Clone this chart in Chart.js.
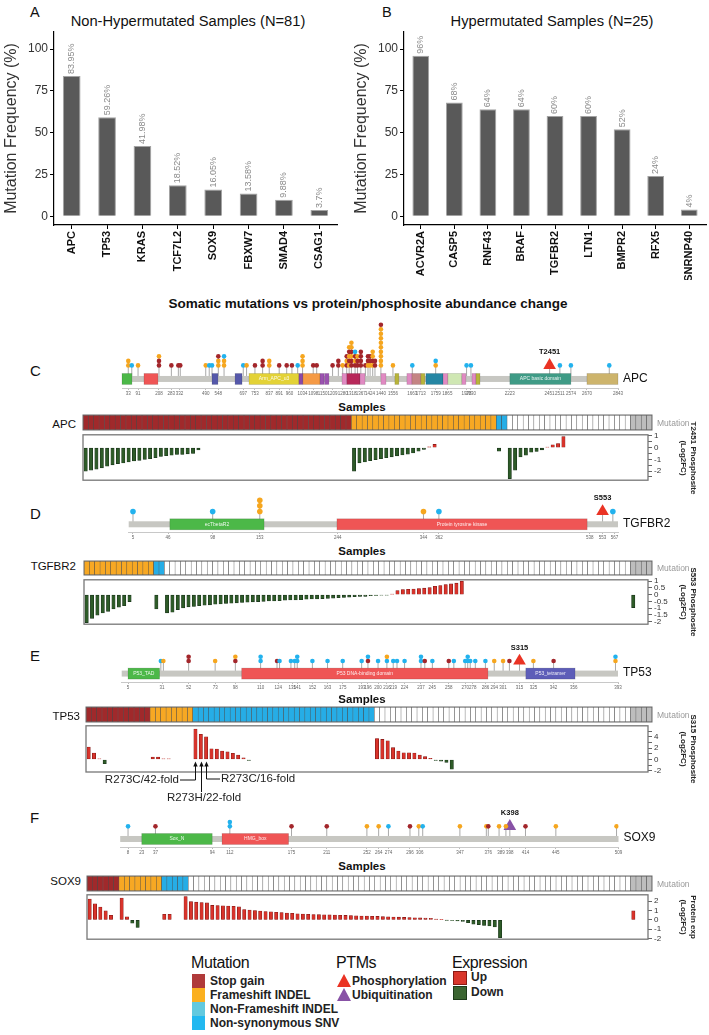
<!DOCTYPE html>
<html>
<head>
<meta charset="utf-8">
<script src="https://cdn.jsdelivr.net/npm/chart.js@4.4.0/dist/chart.umd.min.js"></script>
<style>
  body { margin: 0; background: #fff; width: 709px; height: 1035px; position: relative; overflow: hidden;
         font-family: 'Liberation Sans', Arial, Helvetica, sans-serif; color: #111; }
  canvas { position: absolute; }
  .t { position: absolute; white-space: nowrap; line-height: 1; }
  .sw { position: absolute; }
</style>
</head>
<body>
<script>
const FONT = "'Liberation Sans', Arial, Helvetica, sans-serif";

// ---------- A / B : mutation frequency ----------
const nonHyperGenes = ['APC', 'TP53', 'KRAS', 'TCF7L2', 'SOX9', 'FBXW7', 'SMAD4', 'CSAG1'];
const nonHyperFreq = [83.95, 59.26, 41.98, 18.52, 16.05, 13.58, 9.88, 3.7];
const nonHyperText = ['83.95%', '59.26%', '41.98%', '18.52%', '16.05%', '13.58%', '9.88%', '3.7%'];
const hyperGenes = ['ACVR2A', 'CASP5', 'RNF43', 'BRAF', 'TGFBR2', 'LTN1', 'BMPR2', 'RFX5', 'SNRNP40'];
const hyperFreq = [96, 68, 64, 64, 60, 60, 52, 24, 4];
const hyperText = ['96%', '68%', '64%', '64%', '60%', '60%', '52%', '24%', '4%'];
const freqTicks = [0, 25, 50, 75, 100];

// mutation codes: S stop gain, F frameshift indel, I non-frameshift indel, N non-synonymous SNV, W none, X no data

// ---------- APC ----------
const apcLength = 2843;
const apcDomains = [[0, 57, ''], [126, 206, ''], [516, 550, ''], [648, 688, ''], [728, 1014, 'Arm_APC_u3'],
  [1014, 1037, ''], [1037, 1135, ''], [1135, 1158, ''], [1161, 1186, ''], [1261, 1289, ''], [1289, 1364, ''],
  [1364, 1393, ''], [1484, 1513, ''], [1564, 1587, ''], [1633, 1662, ''], [1662, 1713, ''], [1713, 1736, ''],
  [1742, 1840, ''], [1840, 1868, ''], [1868, 1948, ''], [1948, 1971, ''], [2006, 2029, ''], [2029, 2052, ''],
  [2223, 2573, 'APC basic domain'], [2665, 2843, '']];
const apcDomainColors = ['#4cb848', '#ef5555', '#5558aa', '#5558aa', '#e3d236', '#8b47a8', '#f59a45', '#9b52b0',
  '#9b52b0', '#e08ac2', '#b7285a', '#e08ac2', '#e08ac2', '#b8b43a', '#e08ac2', '#c48484', '#b8b43a', '#2586a3',
  '#e08ac2', '#cfe7b3', '#e08ac2', '#e08ac2', '#b8b43a', '#3f9b86', '#cdb46c'];
const apcMuts = [[36, 'FF'], [56, 'N'], [92, 'F'], [212, 'SSF'], [283, 'S'], [323, 'S'], [334, 'S'], [480, 'F'],
  [500, 'N'], [516, 'N'], [552, 'FFS'], [585, 'FFN'], [695, 'N'], [714, 'F'], [762, 'S'], [806, 'SS'], [844, 'FF'],
  [901, 'S'], [944, 'S'], [974, 'S'], [1007, 'N'], [1035, 'FFF'], [1096, 'S'], [1116, 'S'], [1207, 'S'], [1240, 'SS'],
  [1265, 'F'], [1288, 'SFS'], [1302, 'FSFSF'], [1315, 'SSFSFF'], [1336, 'SFSN'], [1350, 'SSF'], [1369, 'SSSS'],
  [1395, 'S'], [1410, 'FSS'], [1422, 'FSS'], [1437, 'FSFF'], [1450, 'SS'], [1484, 'FFFFFFFFFS'], [1553, 'F'],
  [1664, 'N'], [1798, 'FN'], [1975, 'N'], [2000, 'N'], [2510, 'N'], [2573, 'N'], [2793, 'N']];
const apcPtms = [[2451, 'T2451', 'P']];
const apcTicks = [36, 92, 212, 283, 330, 480, 552, 695, 762, 844, 901, 960, 1035, 1096, 1150, 1207, 1265, 1315,
  1369, 1422, 1484, 1553, 1664, 1713, 1798, 1865, 1975, 2000, 2223, 2451, 2510, 2573, 2665, 2843];
const apcTickLabels = ['33', '91', '208', '283', '332', '490', '548', '697', '753', '837', '891', '960', '1034',
  '1098', '1150', '1209', '1280', '1318', '1367', '1424', '1440', '1556', '1663', '1713', '1759', '1865', '1978',
  '2030', '2223', '2451', '2511', '2574', '2670', '2843'];
const apcMutRuns = [['S', 50], ['F', 27], ['N', 2], ['W', 23], ['X', 4]];
const apcExpr = [
  [0, [-2.0, -1.92, -1.83, -1.72, -1.58, -1.47, -1.36, -1.31, -1.22, -1.14, -1.08, -1.0, -0.94, -0.86, -0.75,
       -0.69, -0.64, -0.58, -0.58, -0.53, -0.5, -0.2]],
  [50, [-2.0, -1.3, -1.22, -1.12, -1.03, -0.94, -0.86, -0.78, -0.7, -0.62, -0.55, -0.45, -0.3, -0.15, 0.08, 0.28]],
  [77, [-0.3]],
  [79, [-2.64, -1.92, -0.8, -0.65, -0.39, -0.33, -0.19, 0.05, 0.25, 0.36, 0.94]]];
const apcExprTicks = [1, 0.5, 0, -0.5, -1, -1.5, -2, -2.5];
const apcExprTickLabels = ['1', '', '0', '', '-1', '', '-2', ''];

// ---------- TGFBR2 ----------
const tgfbr2Length = 571;
const tgfbr2Domains = [[48, 158, 'ecTbetaR2'], [243, 535, 'Protein tyrosine kinase']];
const tgfbr2DomainColors = ['#4cb848', '#ef5555'];
const tgfbr2Muts = [[5, 'N'], [98, 'N'], [153, 'FFF'], [344, 'F'], [362, 'N'], [565, 'N']];
const tgfbr2Ptms = [[553, 'S553', 'P']];
const tgfbr2Ticks = [5, 46, 98, 153, 244, 344, 362, 538, 553, 567];
const tgfbr2TickLabels = ['5', '46', '98', '153', '244', '344', '362', '538', '553', '567'];
const tgfbr2MutRuns = [['F', 13], ['N', 2], ['W', 87], ['X', 4]];
const tgfbr2Expr = [
  [0, [-2.06, -1.75, -1.51, -1.35, -1.23, -1.06, -0.92, -0.82, -0.51]],
  [13, [-1.06]],
  [15, [-1.34, -1.29, -1.1, -0.98, -0.9, -0.87, -0.82, -0.77, -0.75, -0.7, -0.68, -0.65, -0.63, -0.6, -0.58,
        -0.56, -0.53, -0.51, -0.49, -0.46, -0.46, -0.44, -0.41, -0.39, -0.39, -0.37, -0.34, -0.32, -0.32, -0.29,
        -0.27, -0.25, -0.22, -0.2, -0.18, -0.15, -0.13, -0.13, -0.08, -0.06, -0.04, -0.03,
        0.05, 0.3, 0.38, 0.4, 0.42, 0.45, 0.48, 0.52, 0.62, 0.68, 0.75, 0.8, 0.85, 1.0]],
  [102, [-0.95]]];
const tgfbr2ExprTicks = [1, 0.5, 0, -0.5, -1, -1.5, -2];
const tgfbr2ExprTickLabels = ['1', '0.5', '0', '-0.5', '-1', '-1.5', '-2'];

// ---------- TP53 ----------
const tp53Length = 393;
const tp53Domains = [[5, 30, 'P53_TAD'], [95, 290, 'P53 DNA-binding domain'], [320, 359, 'P53_tetramer']];
const tp53DomainColors = ['#4cb848', '#ef5555', '#5d5db8'];
const tp53Muts = [[31, 'N'], [33, 'F'], [53, 'SS'], [74, 'F'], [90, 'SF'], [110, 'NN'], [123, 'S'], [125, 'N'],
  [134, 'N'], [137, 'N'], [139, 'NN'], [151, 'N'], [163, 'N'], [175, 'N'], [190, 'N'], [195, 'SN'], [203, 'N'],
  [210, 'NF'], [215, 'N'], [218, 'N'], [224, 'N'], [237, 'NN'], [240, 'S'], [246, 'N'], [259, 'S'], [263, 'N'],
  [272, 'N'], [274, 'NN'], [276, 'N'], [280, 'N'], [288, 'N'], [295, 'F'], [302, 'F'], [307, 'S'], [326, 'F'],
  [342, 'S'], [391, 'FN']];
const tp53Ptms = [[315, 'S315', 'P']];
const tp53Ticks = [5, 32, 53, 74, 90, 110, 124, 135, 139, 151, 163, 175, 190, 195, 203, 210, 215, 224, 237, 246,
  259, 272, 278, 288, 295, 302, 315, 326, 342, 358, 393];
const tp53TickLabels = ['5', '31', '52', '73', '98', '110', '124', '135', '141', '152', '163', '175', '193', '196',
  '200', '216', '219', '224', '237', '245', '258', '270', '278', '286', '294', '301', '315', '325', '342', '356', '393'];
const tp53MutRuns = [['S', 12], ['F', 8], ['N', 34], ['W', 48], ['X', 4]];
const tp53Expr = [
  [0, [2.2, 1.15, 0.12, -0.75]],
  [12, [0.45, 0.45, 0.12, 0.12]],
  [20, [5.39, 4.46, 4.0, 1.9, 1.85, 1.5, 1.35, 1.1, 0.8, 0.3, -0.15]],
  [54, [3.7, 3.55, 3.3, 2.1, 1.5, 1.2, 1.2, 1.15, 0.8, 0.5, 0.2, -0.15, -0.3, -0.5, -1.7]]];
const tp53ExprTicks = [5, 4, 3, 2, 1, 0, -1, -2];
const tp53ExprTickLabels = ['', '4', '', '2', '', '0', '', '-2'];
const tp53Notes = [[20, 'R273C/42-fold'], [21, 'R273H/22-fold'], [22, 'R273C/16-fold']];

// ---------- SOX9 ----------
const sox9Length = 509;
const sox9Domains = [[22, 94, 'Sox_N'], [104, 172, 'HMG_box']];
const sox9DomainColors = ['#4cb848', '#ef5555'];
const sox9Muts = [[8, 'N'], [36, 'S'], [112, 'NN'], [175, 'S'], [211, 'S'], [252, 'F'], [264, 'F'], [274, 'N'],
  [296, 'S'], [305, 'F'], [309, 'N'], [347, 'F'], [374, 'F'], [376, 'S'], [387, 'F'], [394, 'F'], [414, 'S'],
  [445, 'F'], [507, 'F']];
const sox9Ptms = [[398, 'K398', 'U']];
const sox9Ticks = [8, 22, 36, 94, 112, 175, 211, 252, 264, 274, 296, 306, 347, 376, 389, 398, 414, 445, 509];
const sox9TickLabels = ['8', '23', '37', '94', '112', '175', '211', '252', '264', '274', '296', '306', '347', '376',
  '389', '398', '414', '445', '509'];
const sox9MutRuns = [['S', 6], ['F', 8], ['N', 5], ['W', 83], ['X', 4]];
const sox9Expr = [
  [0, [2.23, 1.72, 1.37, 0.96, 0.5]],
  [6, [2.34, 0.34, -0.35, -0.8]],
  [14, [0.6, 0.6]],
  [18, [2.5, 1.95, 1.9, 1.85, 1.82, 1.55, 1.53, 1.5, 1.48, 1.45, 1.4, 1.1, 1.05, 1.0, 0.95, 0.9, 0.86, 0.82, 0.78,
        0.74, 0.7, 0.66, 0.62, 0.6, 0.58, 0.56, 0.55, 0.53, 0.52, 0.5, 0.48, 0.46, 0.44, 0.42, 0.41, 0.39, 0.37,
        0.35, 0.33, 0.31, 0.29, 0.27, 0.25, 0.23, 0.21, 0.19, 0.17, 0.1, 0.05, -0.03, -0.06, -0.1, -0.15, -0.3,
        -0.45, -0.5, -0.6, -0.65, -0.75, -1.9]],
  [102, [0.96]]];
const sox9ExprTicks = [2, 1, 0, -1, -2];
const sox9ExprTickLabels = ['2', '1', '0', '-1', '-2'];

// ---------- colours ----------
const mutColors = { S: '#a0292b', F: '#f7a823', I: '#62c9df', N: '#26ade6', W: '#ffffff', X: '#bdbdbd' };
const headColors = { S: '#a3262b', F: '#f6a61e', I: '#62c9df', N: '#22b2ee' };
const ptmColors = { P: '#ea3324', U: '#8852a6' };
const upFill = '#d9332b', upLine = '#7d1512', downFill = '#2e5b28', downLine = '#18311a';

Chart.defaults.font.family = FONT;
Chart.defaults.animation = false;
Chart.defaults.responsive = false;
Chart.defaults.plugins.legend.display = false;
Chart.defaults.plugins.tooltip.enabled = false;

function addCanvas(left, top, w, h) {
  const c = document.createElement('canvas');
  c.width = Math.round(w); c.height = Math.round(h);
  c.style.left = left + 'px'; c.style.top = top + 'px';
  c.style.width = Math.round(w) + 'px'; c.style.height = Math.round(h) + 'px';
  document.body.appendChild(c);
  return c;
}

function addText(str, x, y, css, anchor) {
  const d = document.createElement('div');
  d.className = 't';
  d.textContent = str;
  d.style.cssText = css || '';
  d.style.left = x + 'px';
  d.style.top = y + 'px';
  const tx = anchor === 'c' ? '-50%' : anchor === 'r' ? '-100%' : '0';
  d.style.transform = 'translate(' + tx + ',-50%)';
  document.body.appendChild(d);
  return d;
}

function addRotated(lines, xc, yc) {
  const d = document.createElement('div');
  d.className = 't';
  d.style.cssText = 'width:110px;height:20px;line-height:10px;text-align:center;font-size:8px;font-weight:bold;color:#222;';
  d.style.left = (xc) + 'px';
  d.style.top = (yc) + 'px';
  d.style.transform = 'translate(-50%,-50%) rotate(90deg)';
  d.innerHTML = lines.map(s => '<div>' + s + '</div>').join('');
  document.body.appendChild(d);
}

// ---------- plugins ----------
const valueLabelPlugin = {
  id: 'valueLabels',
  afterDatasetsDraw(chart, args, opts) {
    const ctx = chart.ctx;
    ctx.save();
    ctx.font = '9px ' + FONT;
    ctx.fillStyle = '#8a8a8a';
    ctx.textAlign = 'left';
    ctx.textBaseline = 'middle';
    chart.getDatasetMeta(0).data.forEach((bar, i) => {
      ctx.save();
      ctx.translate(bar.x, bar.y - 2);
      ctx.rotate(-Math.PI / 2);
      ctx.fillText(opts.texts[i], 0, 0);
      ctx.restore();
    });
    ctx.restore();
  }
};

const proteinPlugin = {
  id: 'protein',
  beforeDatasetsDraw(chart, args, o) {
    const { ctx, chartArea: a, scales: { x, y } } = chart;
    const yb = y.getPixelForValue(o.backbone);
    ctx.save();
    ctx.strokeStyle = '#a9a9a9';
    ctx.lineWidth = 1;
    o.stems.forEach(([pos, top]) => {
      const px = x.getPixelForValue(pos);
      ctx.beginPath();
      ctx.moveTo(px, yb);
      ctx.lineTo(px, y.getPixelForValue(top));
      ctx.stroke();
    });
    ctx.fillStyle = '#c7c7c2';
    ctx.fillRect(a.left, yb - 3, a.right - a.left, 6);
    o.domains.forEach((d, i) => {
      const x0 = x.getPixelForValue(d[0]), x1 = x.getPixelForValue(d[1]);
      ctx.fillStyle = o.colors[i];
      ctx.fillRect(x0, yb - 5.5, x1 - x0, 11);
      ctx.strokeStyle = 'rgba(0,0,0,0.15)';
      ctx.lineWidth = 0.8;
      ctx.strokeRect(x0, yb - 5.5, x1 - x0, 11);
      if (d[2]) {
        ctx.fillStyle = 'rgba(255,255,255,0.9)';
        ctx.font = '5px ' + FONT;
        ctx.textAlign = 'center';
        ctx.textBaseline = 'middle';
        ctx.fillText(d[2], (x0 + x1) / 2, yb);
      }
    });
    ctx.restore();
  },
  afterDatasetsDraw(chart, args, o) {
    const { ctx, scales: { x, y } } = chart;
    ctx.save();
    ctx.font = 'bold 7.5px ' + FONT;
    ctx.fillStyle = '#111';
    ctx.textAlign = 'center';
    ctx.textBaseline = 'middle';
    o.ptms.forEach(p => ctx.fillText(p[1], x.getPixelForValue(p[0]), y.getPixelForValue(1) - 13.5));
    ctx.restore();
  }
};

const framePlugin = {
  id: 'frame',
  afterDraw(chart, args, o) {
    const { ctx, chartArea: a } = chart;
    ctx.save();
    ctx.strokeStyle = o.color || '#777';
    ctx.lineWidth = o.width || 1.2;
    ctx.strokeRect(a.left, a.top, a.right - a.left, a.bottom - a.top);
    ctx.restore();
  }
};

const arrowPlugin = {
  id: 'arrows',
  afterDraw(chart, args, o) {
    if (!o.notes) return;
    const { ctx, chartArea: a, scales: { x, y } } = chart;
    const tip = y.getPixelForValue(0) + 2;
    ctx.save();
    ctx.strokeStyle = '#111';
    ctx.fillStyle = '#111';
    ctx.lineWidth = 1;
    o.notes.forEach((n, i) => {
      const r = o.routes[i];
      const px = Math.round(x.getPixelForValue(n[0])) + 0.5;
      const yEnd = a.bottom + r.drop;
      ctx.beginPath();
      ctx.moveTo(px, tip + 4);
      ctx.lineTo(px, yEnd);
      if (r.to !== null) ctx.lineTo(r.to, yEnd);
      ctx.stroke();
      ctx.beginPath();
      ctx.moveTo(px, tip);
      ctx.lineTo(px - 2.2, tip + 5);
      ctx.lineTo(px + 2.2, tip + 5);
      ctx.closePath();
      ctx.fill();
    });
    ctx.restore();
  }
};

// ---------- builders ----------
function freqChart(left, width, areaRight, genes, values, texts) {
  const c = addCanvas(left, 0, width, 280);
  new Chart(c, {
    type: 'bar',
    data: {
      labels: genes,
      datasets: [{ data: values, backgroundColor: '#595959', borderColor: '#a3a3a3', borderWidth: 1,
                   barPercentage: 0.5, categoryPercentage: 1 }]
    },
    options: {
      layout: { padding: { top: 32, right: width - areaRight, left: 0, bottom: 0 } },
      plugins: { valueLabels: { texts } },
      scales: {
        x: {
          grid: { display: true, drawOnChartArea: false, offset: false, tickLength: 4, color: '#000' },
          border: { color: '#000', width: 1.2 },
          ticks: { autoSkip: false, minRotation: 90, maxRotation: 90, padding: 2, color: '#111',
                   font: { size: 11, weight: 'bold' } },
          afterFit: s => { s.height = 55; }
        },
        y: {
          min: -5.25, max: 110.25,
          afterBuildTicks: s => { s.ticks = freqTicks.map(v => ({ value: v })); },
          grid: { display: true, drawOnChartArea: false, tickLength: 4, color: '#000' },
          border: { color: '#000', width: 1.2 },
          ticks: { padding: 2, color: '#333', font: { size: 12 } },
          title: { display: true, text: 'Mutation Frequency (%)', color: '#333', font: { size: 16 },
                   padding: { top: 2, bottom: 0 } },
          afterFit: s => { s.width = 54; }
        }
      }
    },
    plugins: [valueLabelPlugin]
  });
}

function lollipopChart(g) {
  const b = 1 - 15 / g.spacing;
  const yMin = b - g.axisGap / g.spacing;
  const yMax = b + g.topGap / g.spacing;
  const areaH = (yMax - yMin) * g.spacing;
  const axisH = 10;
  const c = addCanvas(0, g.bbY - g.topGap, 709, areaH + axisH);
  const heads = [], stems = [];
  g.muts.forEach(([pos, types]) => {
    for (let k = 0; k < types.length; k++) heads.push({ x: pos, y: k + 1, t: types[k] });
    stems.push([pos, types.length]);
  });
  g.ptms.forEach(p => stems.push([p[0], 1]));
  new Chart(c, {
    type: 'scatter',
    data: {
      datasets: [
        { data: heads, pointRadius: g.radius, pointBorderWidth: 0,
          pointBackgroundColor: heads.map(h => headColors[h.t]) },
        { data: g.ptms.map(p => ({ x: p[0], y: 1 })), pointStyle: 'triangle', pointRadius: 7.3, pointBorderWidth: 0,
          pointBackgroundColor: g.ptms.map(p => ptmColors[p[2]]) }
      ]
    },
    options: {
      layout: { padding: { left: g.left, right: 709 - g.right, top: 0, bottom: 0 } },
      plugins: { protein: { backbone: b, stems, domains: g.domains, colors: g.colors, ptms: g.ptms } },
      scales: {
        x: {
          type: 'linear', min: 0, max: g.length, offset: false,
          afterBuildTicks: s => { s.ticks = g.ticks.map(v => ({ value: v })); },
          ticks: { autoSkip: false, minRotation: 0, maxRotation: 0, padding: 1, color: '#666',
                   font: { size: 4.5 }, callback: (v, i) => g.tickLabels[i] },
          grid: { display: true, drawOnChartArea: false, tickLength: 2, color: '#bbb' },
          border: { color: '#c8c8c8', width: 1 },
          afterFit: s => { s.height = axisH; }
        },
        y: { display: false, min: yMin, max: yMax }
      }
    },
    plugins: [proteinPlugin]
  });
}

function stripChart(runs, left, right, top, bottom) {
  const cells = [];
  runs.forEach(([t, n]) => { for (let i = 0; i < n; i++) cells.push(t); });
  const c = addCanvas(left - 2, top - 2, right - left + 4, bottom - top + 4);
  new Chart(c, {
    type: 'bar',
    data: {
      labels: cells.map((_, i) => 'S' + (i + 1)),
      datasets: [{ data: cells.map(() => 1), backgroundColor: cells.map(t => mutColors[t]),
                   borderColor: '#4a4a4a', borderWidth: 0.5, borderSkipped: false,
                   barPercentage: 1, categoryPercentage: 1 }]
    },
    options: {
      layout: { padding: 2 },
      plugins: { frame: { color: '#6a6a6a', width: 1 } },
      scales: { x: { display: false }, y: { display: false, min: 0, max: 1 } }
    },
    plugins: [framePlugin]
  });
  return cells.length;
}

function exprChart(e) {
  const pts = [];
  e.segments.forEach(([start, vals]) => vals.forEach((v, k) => pts.push({ x: start + k, y: v })));
  const extra = e.extraBottom || 0;
  const c = addCanvas(0, e.top - 6, 709, e.bottom - e.top + 12 + extra);
  new Chart(c, {
    type: 'bar',
    data: {
      datasets: [{ data: pts, backgroundColor: pts.map(p => p.y >= 0 ? upFill : downFill),
                   borderColor: pts.map(p => p.y >= 0 ? upLine : downLine), borderWidth: 0.6,
                   borderSkipped: false, barThickness: e.cellW * 0.62 }]
    },
    options: {
      layout: { padding: { left: e.left, right: 709 - e.right - 22, top: 6, bottom: 6 + extra } },
      plugins: { frame: { color: '#777', width: 1.3 }, arrows: { notes: e.notes, routes: e.routes } },
      scales: {
        x: { type: 'linear', display: false, offset: false, min: -0.5, max: -0.5 + (e.right - e.left) / e.cellW },
        y: {
          position: 'right', min: e.yMin, max: e.yMax,
          afterBuildTicks: s => { s.ticks = e.ticks.map(v => ({ value: v })); },
          ticks: { autoSkip: false, padding: 2, color: '#333', font: { size: 8 },
                   callback: (v, i) => e.tickLabels[i] },
          grid: { display: true, drawOnChartArea: false, tickLength: 4, color: '#666' },
          border: { display: false },
          afterFit: s => { s.width = 22; }
        }
      }
    },
    plugins: [framePlugin, arrowPlugin]
  });
}

// ---------- A / B ----------
addText('A', 30, 12, 'font-size:14.5px;');
addText('Non-Hypermutated Samples (N=81)', 188, 21, 'font-size:14.7px;', 'c');
freqChart(0, 345, 337, nonHyperGenes, nonHyperFreq, nonHyperText);
addText('B', 382, 12, 'font-size:14.5px;');
addText('Hypermutated Samples (N=25)', 552, 21, 'font-size:14.7px;', 'c');
freqChart(350, 359, 356, hyperGenes, hyperFreq, hyperText);

addText('Somatic mutations vs protein/phosphosite abundance change', 368, 304, 'font-size:13.5px;font-weight:bold;', 'c');

// ---------- gene panels ----------
const panels = [
  { tag: 'C', tagY: 370, gene: 'APC', length: apcLength, domains: apcDomains, colors: apcDomainColors, muts: apcMuts,
    ptms: apcPtms, ticks: apcTicks, tickLabels: apcTickLabels, bbY: 378, left: 122, right: 618, spacing: 5,
    axisGap: 10, topGap: 66, radius: 2.3, runs: apcMutRuns, stripL: 83, stripT: 415, stripB: 430, labelX: 76,
    labelY: 424.5, samplesY: 408, boxT: 434, boxB: 481, yMin: -2.78, yMax: 1.1, expr: apcExpr,
    exprTicks: apcExprTicks, exprTickLabels: apcExprTickLabels, yTitle: ['T2451 Phosphosite', '(Log2FC)'] },
  { tag: 'D', tagY: 513, gene: 'TGFBR2', length: tgfbr2Length, domains: tgfbr2Domains, colors: tgfbr2DomainColors,
    muts: tgfbr2Muts, ptms: tgfbr2Ptms, ticks: tgfbr2Ticks, tickLabels: tgfbr2TickLabels, bbY: 523, left: 128.7,
    right: 618, spacing: 6.5, axisGap: 9, topGap: 42, radius: 2.8, runs: tgfbr2MutRuns, stripL: 84, stripT: 561,
    stripB: 575, labelX: 76, labelY: 567, samplesY: 552, boxT: 579, boxB: 625, yMin: -2.18, yMax: 1.1,
    expr: tgfbr2Expr, exprTicks: tgfbr2ExprTicks, exprTickLabels: tgfbr2ExprTickLabels,
    yTitle: ['S553 Phosphosite', '(Log2FC)'] },
  { tag: 'E', tagY: 655, gene: 'TP53', length: tp53Length, domains: tp53Domains, colors: tp53DomainColors,
    muts: tp53Muts, ptms: tp53Ptms, ticks: tp53Ticks, tickLabels: tp53TickLabels, bbY: 672, left: 121.7, right: 618,
    spacing: 5, axisGap: 10, topGap: 36, radius: 2.3, runs: tp53MutRuns, stripL: 86, stripT: 707, stripB: 722,
    labelX: 80, labelY: 716.5, samplesY: 700, boxT: 725, boxB: 772, yMin: -2.2, yMax: 5.95, expr: tp53Expr,
    exprTicks: tp53ExprTicks, exprTickLabels: tp53ExprTickLabels, yTitle: ['S315 Phosphosite', '(Log2FC)'],
    notes: tp53Notes },
  { tag: 'F', tagY: 817, gene: 'SOX9', length: sox9Length, domains: sox9Domains, colors: sox9DomainColors,
    muts: sox9Muts, ptms: sox9Ptms, ticks: sox9Ticks, tickLabels: sox9TickLabels, bbY: 836.5, left: 120.2,
    right: 618.5, spacing: 5, axisGap: 9.5, topGap: 34, radius: 2.3, runs: sox9MutRuns, stripL: 87, stripT: 876,
    stripB: 891, labelX: 81, labelY: 882, samplesY: 867, boxT: 894, boxB: 940, yMin: -2.06, yMax: 2.68,
    expr: sox9Expr, exprTicks: sox9ExprTicks, exprTickLabels: sox9ExprTickLabels, yTitle: ['Protein exp', '(Log2FC)'] }
];

const stripRight = 652, boxRight = 648;
panels.forEach(p => {
  addText(p.tag, 30, p.tagY, 'font-size:15px;');
  lollipopChart(p);
  addText(p.gene, p.right + 5, p.bbY, 'font-size:12px;');
  addText('Samples', 362, p.samplesY, 'font-size:11.5px;font-weight:bold;', 'c');
  const n = stripChart(p.runs, p.stripL, stripRight, p.stripT, p.stripB);
  addText(p.gene, p.labelX, p.labelY, 'font-size:11.5px;', 'r');
  addText('Mutation', 657, (p.stripT + p.stripB) / 2, 'font-size:8.5px;color:#999;');
  const cellW = (stripRight - p.stripL) / n;
  exprChart({ segments: p.expr, left: p.stripL, right: boxRight, top: p.boxT, bottom: p.boxB, cellW,
              yMin: p.yMin, yMax: p.yMax, ticks: p.exprTicks, tickLabels: p.exprTickLabels,
              extraBottom: p.notes ? 30 : 0, notes: p.notes,
              routes: p.notes ? [{ drop: 8, to: 180 }, { drop: 20, to: null }, { drop: 7, to: 220 }] : null });
  addRotated(p.yTitle, 688, (p.boxT + p.boxB) / 2);
});

// TP53 annotations
addText(tp53Notes[0][1], 179, 780, 'font-size:11.5px;color:#222;', 'r');
addText(tp53Notes[1][1], 204, 797.5, 'font-size:11.5px;color:#222;', 'c');
addText(tp53Notes[2][1], 221, 779, 'font-size:11.5px;color:#222;');

// ---------- legend ----------
const legendMutation = [['Stop gain', '#b03a3a'], ['Frameshift INDEL', '#fbb020'], ['Non-Frameshift INDEL', '#62c9df'],
  ['Non-synonymous SNV', '#22b8f0']];
const legendPtm = [['Phosphorylation', '#ea3324'], ['Ubiquitination', '#8852a6']];
const legendExpr = [['Up', '#d9362b', '#8a1a14'], ['Down', '#3b6531', '#1e3a1a']];

addText('Mutation', 191, 963, 'font-size:16px;letter-spacing:-0.4px;');
legendMutation.forEach(([name, col], i) => {
  const sw = document.createElement('div');
  sw.className = 'sw';
  sw.style.cssText = 'left:192px;top:' + (974 + i * 14) + 'px;width:13px;height:14px;background:' + col + ';';
  document.body.appendChild(sw);
  addText(name, 210, 981 + i * 14, 'font-size:12px;font-weight:bold;color:#222;');
});
addText('PTMs', 336, 963, 'font-size:16px;letter-spacing:-0.4px;');
legendPtm.forEach(([name, col], i) => {
  const tr = document.createElement('div');
  tr.className = 'sw';
  tr.style.cssText = 'left:337px;top:' + (974 + i * 14) + 'px;width:0;height:0;border-left:7px solid transparent;' +
    'border-right:7px solid transparent;border-bottom:13px solid ' + col + ';';
  document.body.appendChild(tr);
  addText(name, 352, 980.5 + i * 14, 'font-size:12px;font-weight:bold;color:#222;');
});
addText('Expression', 452, 963, 'font-size:16px;letter-spacing:-0.4px;');
legendExpr.forEach(([name, col, edge], i) => {
  const sw = document.createElement('div');
  sw.className = 'sw';
  sw.style.cssText = 'left:453px;top:' + (971 + i * 15) + 'px;width:12px;height:12px;background:' + col +
    ';border:1px solid ' + edge + ';';
  document.body.appendChild(sw);
  addText(name, 471, 977 + i * 15, 'font-size:12px;font-weight:bold;color:#222;');
});
</script>
</body>
</html>
